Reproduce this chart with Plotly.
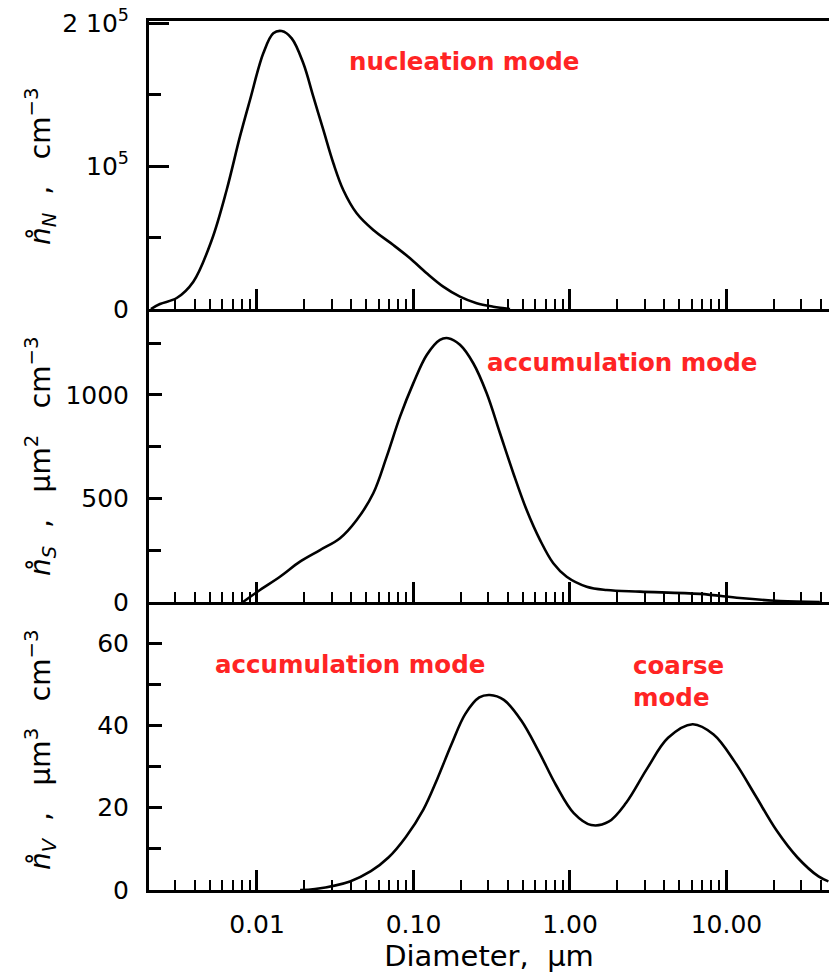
import plotly.graph_objects as go

# ---------------- data ----------------
# number distribution (panel 1)
D_N = [0.00210, 0.00240, 0.00307, 0.00392, 0.00514, 0.00640, 0.00778, 0.00902,
       0.01097, 0.01271, 0.01438, 0.01667, 0.01977, 0.02291, 0.02655, 0.03077,
       0.03559, 0.04335, 0.05535, 0.07430, 0.09506, 0.1215, 0.1549, 0.1981,
       0.2534, 0.3235, 0.414]
N_val = [0, 3500, 7690, 19090, 48250, 83220, 120490, 146150,
         178800, 192800, 194400, 189300, 171800, 148500, 125200, 101900,
         83200, 66900, 55200, 44750, 35450, 24960, 15600, 8600,
         3990, 1610, 0]

# surface distribution (panel 2)
D_S = [0.00814, 0.01045, 0.01402, 0.01883, 0.02528, 0.03392, 0.04335, 0.05535,
       0.06743, 0.08204, 0.0998, 0.1215, 0.1476, 0.1668, 0.1981, 0.2410,
       0.2936, 0.3571, 0.4345, 0.5285, 0.6430, 0.7822, 0.9527, 1.279,
       1.715, 2.799, 6.77, 12.2, 21.97, 39.5]
S_val = [0, 58, 122, 195, 251, 308, 396, 525,
         702, 895, 1057, 1193, 1266, 1274, 1242, 1153,
         1008, 815, 622, 444, 300, 187, 122, 74,
         58, 50, 39, 19, 5, 0]

# volume distribution (panel 3)
D_V = [0.01884, 0.02350, 0.03929, 0.05340, 0.06914, 0.08938, 0.1156, 0.1419,
       0.1744, 0.2144, 0.2633, 0.3073, 0.3777, 0.4884, 0.6310, 0.8163,
       1.057, 1.366, 1.766, 2.285, 3.109, 4.236, 6.073, 8.271,
       11.27, 15.33, 20.86, 28.42, 38.73, 44.8]
V_val = [0, 0.24, 2.09, 4.57, 7.89, 12.9, 19.55, 27.0,
         35.3, 42.8, 46.8, 47.4, 46.2, 41.2, 33.7, 25.4,
         18.7, 15.8, 16.6, 21.2, 29.5, 37.0, 40.3, 37.8,
         31.2, 22.9, 14.5, 7.9, 3.3, 2.1]

x_major = [0.01, 0.1, 1, 10]
x_labels = ["0.01", "0.10", "1.00", "10.00"]
x_minor = [k * 10.0 ** e for e in range(-3, 2) for k in range(2, 10)
           if 0.002 <= k * 10.0 ** e <= 45]

yN_ticks = [0, 100000, 200000]
yN_labels = ["0", "10<sup>5</sup>", "2 10<sup>5</sup>"]
yN_minor = [50000, 150000]
yS_ticks = [0, 500, 1000]
yS_labels = ["0", "500", "1000"]
yS_minor = [250, 750, 1250]
yV_ticks = [0, 20, 40, 60]
yV_labels = ["0", "20", "40", "60"]
yV_minor = [10, 30, 50]

# ---------------- figure ----------------
W, H = 829, 973
L, R, T, B = 149, 0, 21, 83
PW, PH = W - L - R, H - T - B


def px(x):
    return (x - L) / PW


def py(y):
    return (H - B - y) / PH


FONT = "DejaVu Sans"
tickfont = dict(family=FONT, size=25, color="black")
red = "#ff2424"

fig = go.Figure()
line = dict(color="black", width=2.6, shape="spline", smoothing=1.0)
fig.add_trace(go.Scatter(x=D_N, y=N_val, mode="lines", line=line, xaxis="x3", yaxis="y3"))
fig.add_trace(go.Scatter(x=D_S, y=S_val, mode="lines", line=line, xaxis="x2", yaxis="y2"))
fig.add_trace(go.Scatter(x=D_V, y=V_val, mode="lines", line=line, xaxis="x", yaxis="y"))

xrange = [-2.690, 1.655]


def xaxis_cfg(anchor, labels, mirror=False):
    return dict(
        type="log", range=xrange, anchor=anchor,
        showline=True, linecolor="black", linewidth=3, mirror=mirror,
        showgrid=False, zeroline=False,
        tickmode="array", tickvals=x_major,
        ticktext=x_labels if labels else [""] * len(x_major),
        showticklabels=labels,
        ticks="inside", ticklen=20, tickwidth=2.5, tickcolor="black",
        minor=dict(tickmode="array", tickvals=x_minor, ticks="inside",
                   ticklen=10, tickwidth=2, tickcolor="black", showgrid=False),
        tickfont=tickfont, ticklabelstandoff=10,
    )


def yaxis_cfg(anchor, dom, rng, tv, tt, mn, majlen):
    return dict(
        domain=dom, range=rng, anchor=anchor,
        showline=True, linecolor="black", linewidth=3,
        showgrid=False, zeroline=False,
        tickmode="array", tickvals=tv, ticktext=tt,
        ticks="inside", ticklen=majlen, tickwidth=2.5, tickcolor="black",
        minor=dict(tickmode="array", tickvals=mn, ticks="inside",
                   ticklen=12, tickwidth=2.5, tickcolor="black", showgrid=False),
        tickfont=tickfont, ticklabelstandoff=12,
    )


d3 = [0, py(602)]
d2 = [py(602), py(309)]
d1 = [py(309), 1]

fig.update_layout(
    width=W, height=H,
    margin=dict(l=L, r=R, t=T, b=B),
    paper_bgcolor="white", plot_bgcolor="white",
    showlegend=False,
    xaxis=xaxis_cfg("y", True),
    xaxis2=xaxis_cfg("y2", False),
    xaxis3=xaxis_cfg("y3", False, mirror=True),
    yaxis=yaxis_cfg("x", d3, [0, 70], yV_ticks, yV_labels, yV_minor, 13),
    yaxis2=yaxis_cfg("x2", d2, [0, 1415], yS_ticks, yS_labels, yS_minor, 13),
    yaxis3=yaxis_cfg("x3", d1, [0, 201400], yN_ticks, yN_labels, yN_minor, 20),
)
fig.layout.xaxis.title = dict(text="Diameter,\u00a0\u00a0μm",
                              font=dict(family=FONT, size=29, color="black"),
                              standoff=4)

ann_font = dict(family=FONT, size=24.5, color=red)
annots = [
    dict(text="<b>nucleation mode</b>", x=px(464), y=py(62), xanchor="center"),
    dict(text="<b>accumulation mode</b>", x=px(622), y=py(362), xanchor="center"),
    dict(text="<b>accumulation mode</b>", x=px(350), y=py(664), xanchor="center"),
    dict(text="<b>coarse<br>mode</b>", x=px(631), y=py(681), xanchor="left", align="left"),
]
for a in annots:
    fig.add_annotation(xref="paper", yref="paper", yanchor="middle",
                       showarrow=False, font=ann_font, **a)

sp = "\u00a0"
ytitles = [
    ("<i>n\u030a</i><sub><i>N</i></sub>" + sp * 2 + "," + sp * 3 + "cm<sup>\u22123</sup>", 166),
    ("<i>n\u030a</i><sub><i>S</i></sub>" + sp * 2 + "," + sp * 3 + "μm<sup>2</sup>" + sp * 3 + "cm<sup>\u22123</sup>", 456),
    ("<i>n\u030a</i><sub><i>V</i></sub>" + sp * 2 + "," + sp * 3 + "μm<sup>3</sup>" + sp * 3 + "cm<sup>\u22123</sup>", 750),
]
for txt, yc in ytitles:
    fig.add_annotation(xref="paper", yref="paper", x=px(40), y=py(yc),
                       xanchor="center", yanchor="middle", textangle=-90,
                       showarrow=False, text=txt,
                       font=dict(family=FONT, size=28, color="black"))

fig.write_html("out.html")
